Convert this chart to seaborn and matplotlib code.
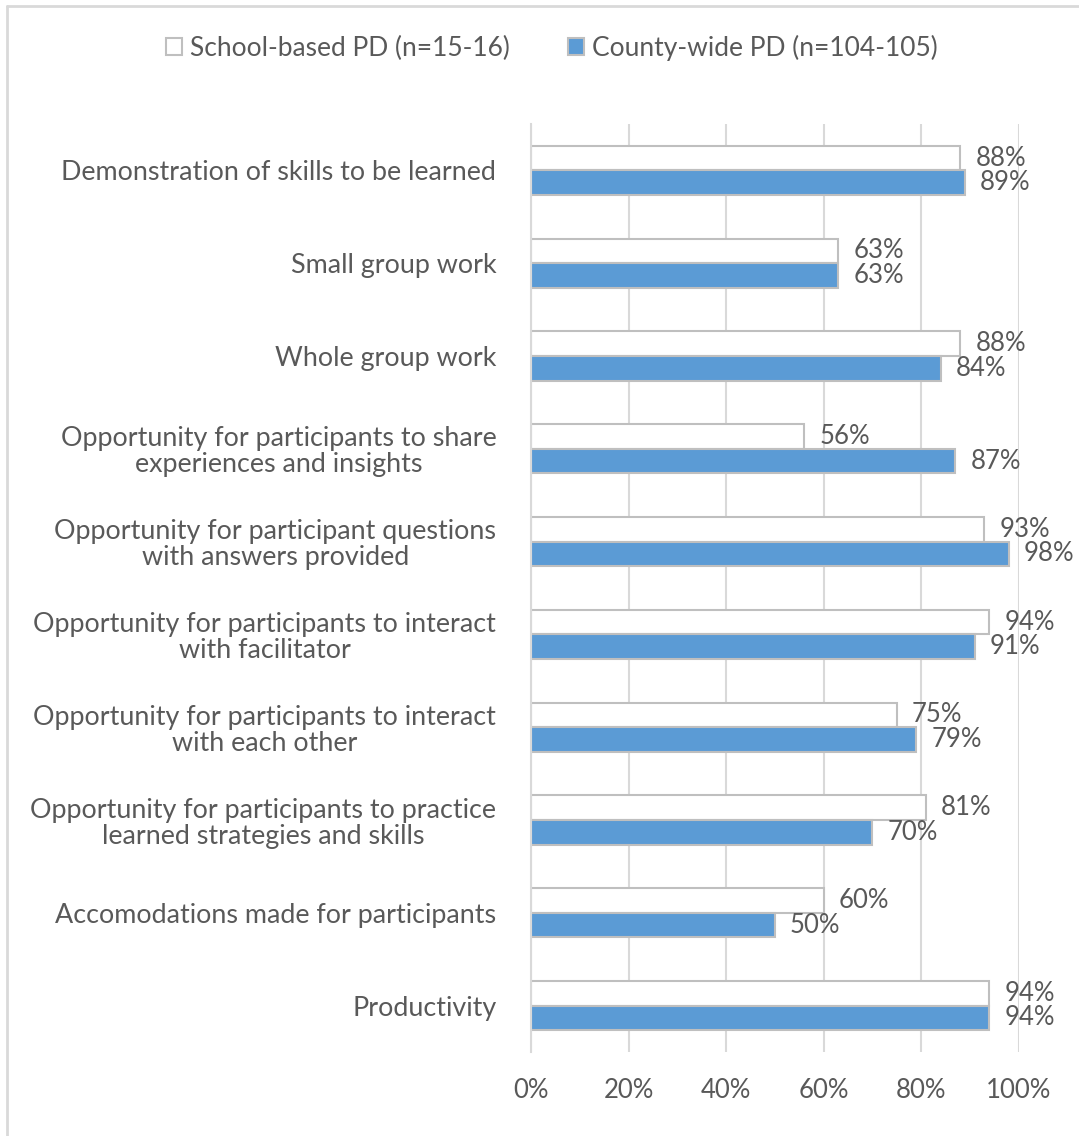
import matplotlib
matplotlib.use("Agg")
import matplotlib.pyplot as plt
from matplotlib.patches import Patch
from matplotlib.lines import Line2D
import seaborn as sns
import pandas as pd

categories = [
    "Demonstration of skills to be learned",
    "Small group work",
    "Whole group work",
    "Opportunity for participants to share\nexperiences and insights",
    "Opportunity for participant questions\nwith answers provided",
    "Opportunity for participants to interact\nwith facilitator",
    "Opportunity for participants to interact\nwith each other",
    "Opportunity for participants to practice\nlearned strategies and skills",
    "Accomodations made for participants",
    "Productivity",
]
series_names = ["School-based PD (n=15-16)", "County-wide PD (n=104-105)"]
school_based = [88, 63, 88, 56, 93, 94, 75, 81, 60, 94]
county_wide = [89, 63, 84, 87, 98, 91, 79, 70, 50, 94]
x_ticks = [0, 20, 40, 60, 80, 100]
x_tick_labels = ["0%", "20%", "40%", "60%", "80%", "100%"]

df = pd.DataFrame({
    "category": categories * 2,
    "group": [series_names[0]] * len(categories) + [series_names[1]] * len(categories),
    "pct": school_based + county_wide,
})

sns.set_theme(style="white")
plt.rcParams["font.family"] = ["Lato", "DejaVu Sans"]

TEXT = "#595959"
GRID = "#D9D9D9"
EDGE = "#BFBFBF"
BLUE = "#5B9BD5"
FS_CAT = 19.4
FS_VAL = 18.5
FS_LEG = 19

fig = plt.figure(figsize=(10.79, 11.36), dpi=100)
ax = fig.add_axes([531 / 1079, 1 - 1052 / 1136, (1018.5 - 531) / 1079, (1052 - 124) / 1136])

sns.barplot(
    data=df, y="category", x="pct", hue="group", orient="h",
    hue_order=series_names, order=categories,
    palette=["white", BLUE], saturation=1, width=0.53, gap=0,
    edgecolor=EDGE, linewidth=1.5, ax=ax, legend=False,
)

for container, vals in zip(ax.containers, [school_based, county_wide]):
    ax.bar_label(container, labels=[f"{v}%" for v in vals], padding=11,
                 fontsize=FS_VAL, color=TEXT)

ax.set_xlim(0, 100)
ax.set_xticks(x_ticks)
ax.set_xticklabels(x_tick_labels)
ax.set_xlabel("")
ax.set_ylabel("")
ax.xaxis.grid(True, color=GRID, linewidth=1.5)
ax.set_axisbelow(True)
for side in ["top", "right", "bottom"]:
    ax.spines[side].set_visible(False)
ax.spines["left"].set_color(GRID)
ax.spines["left"].set_linewidth(1.5)
ax.tick_params(axis="x", length=0, pad=19, labelsize=FS_VAL, labelcolor=TEXT)
ax.tick_params(axis="y", length=0, pad=25, labelsize=FS_CAT, labelcolor=TEXT)
for lbl in ax.get_yticklabels():
    lbl.set_multialignment("center")
    lbl.set_linespacing(1.05)

handles = [
    Patch(facecolor="white", edgecolor=EDGE, linewidth=1.5),
    Patch(facecolor=BLUE, edgecolor=EDGE, linewidth=1.5),
]
fig.legend(handles, series_names, loc="center", bbox_to_anchor=(552 / 1079, 1 - 48 / 1136),
           ncol=2, frameon=False, fontsize=FS_LEG, labelcolor=TEXT,
           handlelength=0.6, handleheight=0.6, handletextpad=0.3, columnspacing=2.2)

# chart frame: top and left edges
fig.add_artist(Line2D([7 / 1079, 1], [1 - 6 / 1136, 1 - 6 / 1136], color=GRID, linewidth=2,
                      transform=fig.transFigure))
fig.add_artist(Line2D([7 / 1079, 7 / 1079], [0, 1 - 6 / 1136], color=GRID, linewidth=2,
                      transform=fig.transFigure))

fig.savefig("out.png", dpi=100)
